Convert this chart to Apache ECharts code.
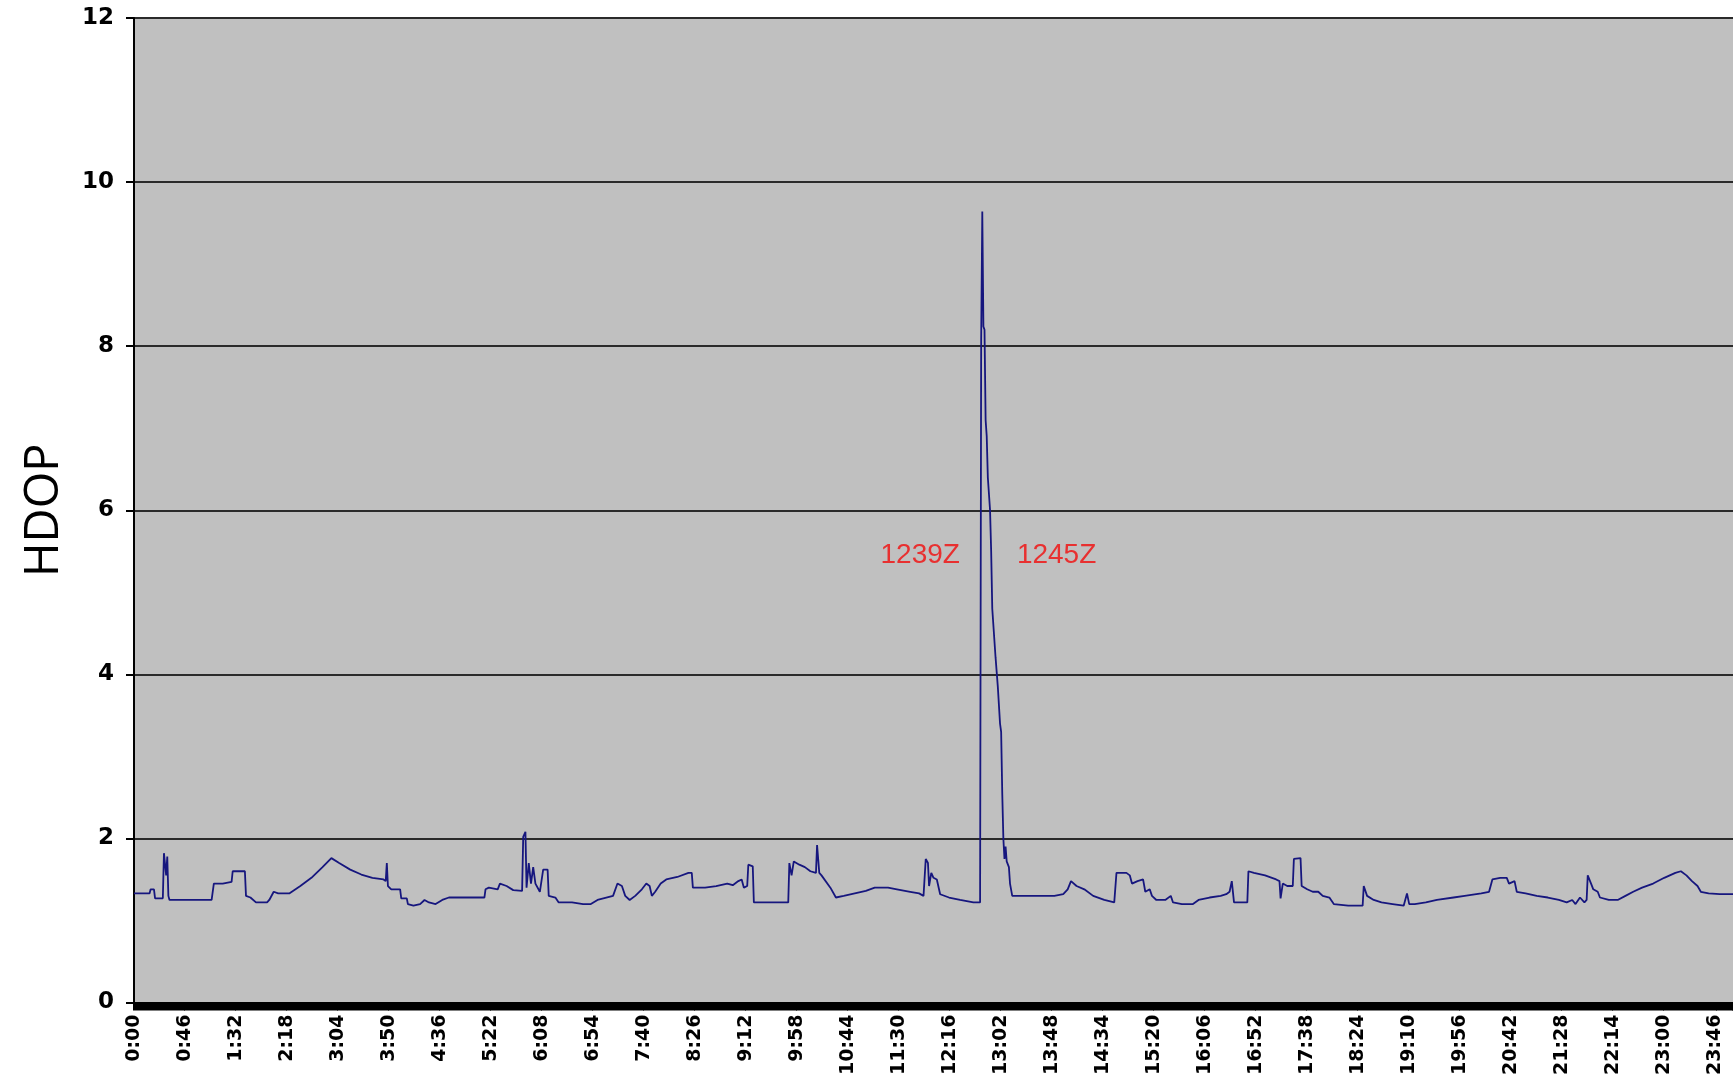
<!DOCTYPE html>
<html>
<head>
<meta charset="utf-8">
<script src="https://cdn.jsdelivr.net/npm/echarts@6/dist/echarts.min.js"></script>
<style>
html,body{margin:0;padding:0;background:#fff;}
#chart{width:1733px;height:1078px;}
</style>
</head>
<body>
<div id="chart"></div>
<script>
// tick labels every 46 minutes
const timeLabels = ['0:00','0:46','1:32','2:18','3:04','3:50','4:36','5:22','6:08','6:54','7:40','8:26','9:12','9:58','10:44','11:30','12:16','13:02','13:48','14:34','15:20','16:06','16:52','17:38','18:24','19:10','19:56','20:42','21:28','22:14','23:00','23:46'];
const yTicks = [0, 2, 4, 6, 8, 10, 12];

// time of sample (minutes after 0:00)
const minutes = [
0,14,15,18,19,26,27,28,29,30,31,32,33,70,71,72,80,88,89,100,
101,105,110,120,122,126,130,140,150,160,170,178,185,195,205,215,225,227,228,229,
232,240,241,246,247,252,258,262,266,272,278,284,300,316,317,320,328,330,336,342,
350,351,353,354,356,358,360,362,366,369,373,374,380,383,395,405,412,418,432,436,
440,443,447,452,458,462,465,467,470,475,480,490,500,503,504,515,525,535,540,545,
548,550,553,554,558,559,575,590,591,593,595,600,605,610,615,616,618,620,628,633,
640,650,660,668,680,688,700,708,712,714,716,717,719,721,724,727,735,745,757,763,
764,765,766,767,768,769,770,772,773,774,777,779,781,782,783,784,785,786,787,789,
790,792,800,815,830,838,842,845,850,857,865,875,884,885,886,895,898,900,905,910,
912,916,918,922,930,935,937,945,955,960,970,980,985,988,990,992,1000,1004,1005,1010,
1020,1030,1033,1034,1036,1040,1045,1046,1052,1053,1058,1063,1068,1072,1078,1082,1095,1108,1109,1112,
1118,1125,1135,1145,1148,1150,1155,1165,1175,1190,1200,1215,1222,1225,1232,1238,1240,1245,1247,1255,
1265,1275,1285,1292,1297,1300,1304,1308,1310,1311,1314,1316,1320,1322,1330,1338,1345,1352,1360,1370,
1380,1390,1395,1400,1405,1410,1413,1420,1430,1442
];
// HDOP value at each sample
const hdop = [
1.33,1.33,1.38,1.38,1.27,1.27,1.82,1.82,1.55,1.78,1.30,1.25,1.25,1.25,1.27,1.45,1.45,1.47,1.60,1.60,
1.30,1.28,1.22,1.22,1.25,1.35,1.33,1.33,1.42,1.52,1.65,1.76,1.70,1.62,1.56,1.52,1.50,1.48,1.70,1.42,
1.38,1.38,1.27,1.27,1.20,1.18,1.20,1.25,1.22,1.20,1.25,1.28,1.28,1.28,1.38,1.40,1.38,1.45,1.42,1.37,
1.36,2.02,2.08,1.40,1.70,1.45,1.65,1.45,1.35,1.62,1.62,1.30,1.28,1.22,1.22,1.20,1.20,1.25,1.30,1.45,
1.42,1.30,1.25,1.30,1.38,1.45,1.42,1.30,1.35,1.45,1.50,1.53,1.58,1.58,1.40,1.40,1.42,1.45,1.43,1.48,
1.50,1.40,1.42,1.68,1.66,1.22,1.22,1.22,1.70,1.55,1.72,1.68,1.65,1.60,1.58,1.92,1.58,1.55,1.40,1.28,
1.30,1.33,1.36,1.40,1.40,1.38,1.35,1.33,1.30,1.75,1.70,1.42,1.58,1.52,1.50,1.32,1.28,1.25,1.22,1.22,
8.10,9.64,8.24,8.20,7.10,6.90,6.40,6.00,5.50,4.80,4.20,3.85,3.40,3.30,2.55,2.00,1.75,1.90,1.72,1.65,
1.45,1.30,1.30,1.30,1.30,1.32,1.38,1.48,1.42,1.38,1.30,1.25,1.22,1.22,1.58,1.58,1.55,1.45,1.48,1.50,
1.35,1.38,1.30,1.25,1.25,1.30,1.22,1.20,1.20,1.25,1.28,1.30,1.32,1.35,1.48,1.22,1.22,1.22,1.60,1.58,
1.55,1.50,1.48,1.27,1.45,1.42,1.42,1.75,1.76,1.42,1.38,1.35,1.35,1.30,1.28,1.20,1.18,1.18,1.42,1.30,
1.25,1.22,1.20,1.18,1.33,1.20,1.20,1.22,1.25,1.28,1.30,1.33,1.35,1.50,1.52,1.52,1.45,1.48,1.35,1.33,
1.30,1.28,1.25,1.22,1.25,1.20,1.28,1.22,1.25,1.55,1.45,1.38,1.35,1.28,1.25,1.25,1.30,1.35,1.40,1.45,
1.52,1.58,1.60,1.55,1.48,1.42,1.35,1.33,1.32,1.32
];

// annotations (text, anchor time in minutes, anchor HDOP)
const annoText = ['1239Z', '1245Z'];
const annoTime = [709, 832];
const annoValue = [5.45, 5.45];

const seriesData = minutes.map((m, i) => [m, hdop[i]]);
const labelStep = 46;

const chart = echarts.init(document.getElementById('chart'), null, {renderer: 'canvas'});
chart.setOption({
  animation: false,
  backgroundColor: '#ffffff',
  grid: {
    left: 134, right: 0, top: 18, bottom: 70,
    show: true, backgroundColor: '#c0c0c0', borderWidth: 0
  },
  xAxis: {
    type: 'value',
    min: 0, max: 1442, interval: labelStep,
    axisLine: {show: true, onZero: false, lineStyle: {color: '#000', width: 2}},
    axisTick: {show: true, length: 8, lineStyle: {color: '#000', width: 2}},
    minorTick: {show: true, splitNumber: 23, length: 8, lineStyle: {color: '#000', width: 3}},
    splitLine: {show: false},
    axisLabel: {
      rotate: 90, margin: 12, showMaxLabel: false,
      fontFamily: 'DejaVu Sans', fontWeight: 'bold', fontSize: 19, color: '#000',
      formatter: v => {
        const i = Math.round(v / labelStep);
        return (v % labelStep === 0 && timeLabels[i] !== undefined) ? timeLabels[i] : '';
      }
    }
  },
  yAxis: {
    type: 'value',
    min: yTicks[0], max: yTicks[yTicks.length - 1], interval: 2,
    name: 'HDOP', nameLocation: 'middle', nameGap: 66, nameRotate: 90,
    nameTextStyle: {fontFamily: 'Open Sans', fontSize: 47, color: '#000'},
    axisLine: {show: true, lineStyle: {color: '#000', width: 2}},
    axisTick: {show: true, length: 8, lineStyle: {color: '#000', width: 2}},
    splitLine: {show: true, lineStyle: {color: '#2a2a2a', width: 2}},
    axisLabel: {margin: 20, fontFamily: 'DejaVu Sans', fontWeight: 'bold', fontSize: 23, color: '#000'}
  },
  series: [{
    type: 'line',
    data: seriesData,
    showSymbol: false,
    symbol: 'none',
    lineStyle: {color: '#16167e', width: 1.8},
    markPoint: {
      symbol: 'circle', symbolSize: 0, silent: true,
      label: {show: true, position: 'inside', color: '#e83030', fontFamily: 'Liberation Sans', fontSize: 28},
      data: annoText.map((t, i) => ({coord: [annoTime[i], annoValue[i]], value: t, label: {formatter: t}}))
    }
  }]
});
</script>
</body>
</html>
